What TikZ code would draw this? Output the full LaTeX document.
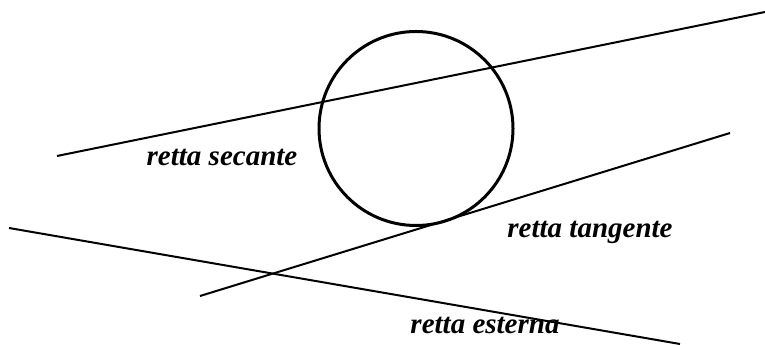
\documentclass[tikz,border=0pt]{standalone}
\usepackage{fontspec}
\setmainfont{Liberation Serif}
\usepackage{tikz}
\usetikzlibrary{shapes,arrows}

\begin{document}
\begin{tikzpicture}[x=0.5pt, y=-0.5pt,
					retta/.style={draw, line width=1pt},
					etichetta/.style={font=\fontsize{14.5}{17}\selectfont\bfseries\itshape, inner sep=0pt}]
					%Bildbereich
					\useasboundingbox (0,0) rectangle (765,346);
					% Kreis
					\node[circle, draw, line width=1.5pt, minimum size=97pt, inner sep=0pt] (cerchio) at (416,128.5) {};
					% Endpunkte der Geraden
					\coordinate (sA) at (57,156);   \coordinate (sB) at (765,12);
					\coordinate (tA) at (200,296);  \coordinate (tB) at (730,133);
					\coordinate (eA) at (9,228);    \coordinate (eB) at (680,344);
					%Geraden zeichnen
					\draw[retta] (sA) -- (sB);
					\draw[retta] (tA) -- (tB);
					\draw[retta] (eA) -- (eB);
					%Beschriftung
					\node[etichetta] (secante)  at (222,157) {retta secante};
					\node[etichetta] (tangente) at (590,232) {retta tangente};
					\node[etichetta] (esterna)  at (485,325) {retta esterna};
\end{tikzpicture}
\end{document}
